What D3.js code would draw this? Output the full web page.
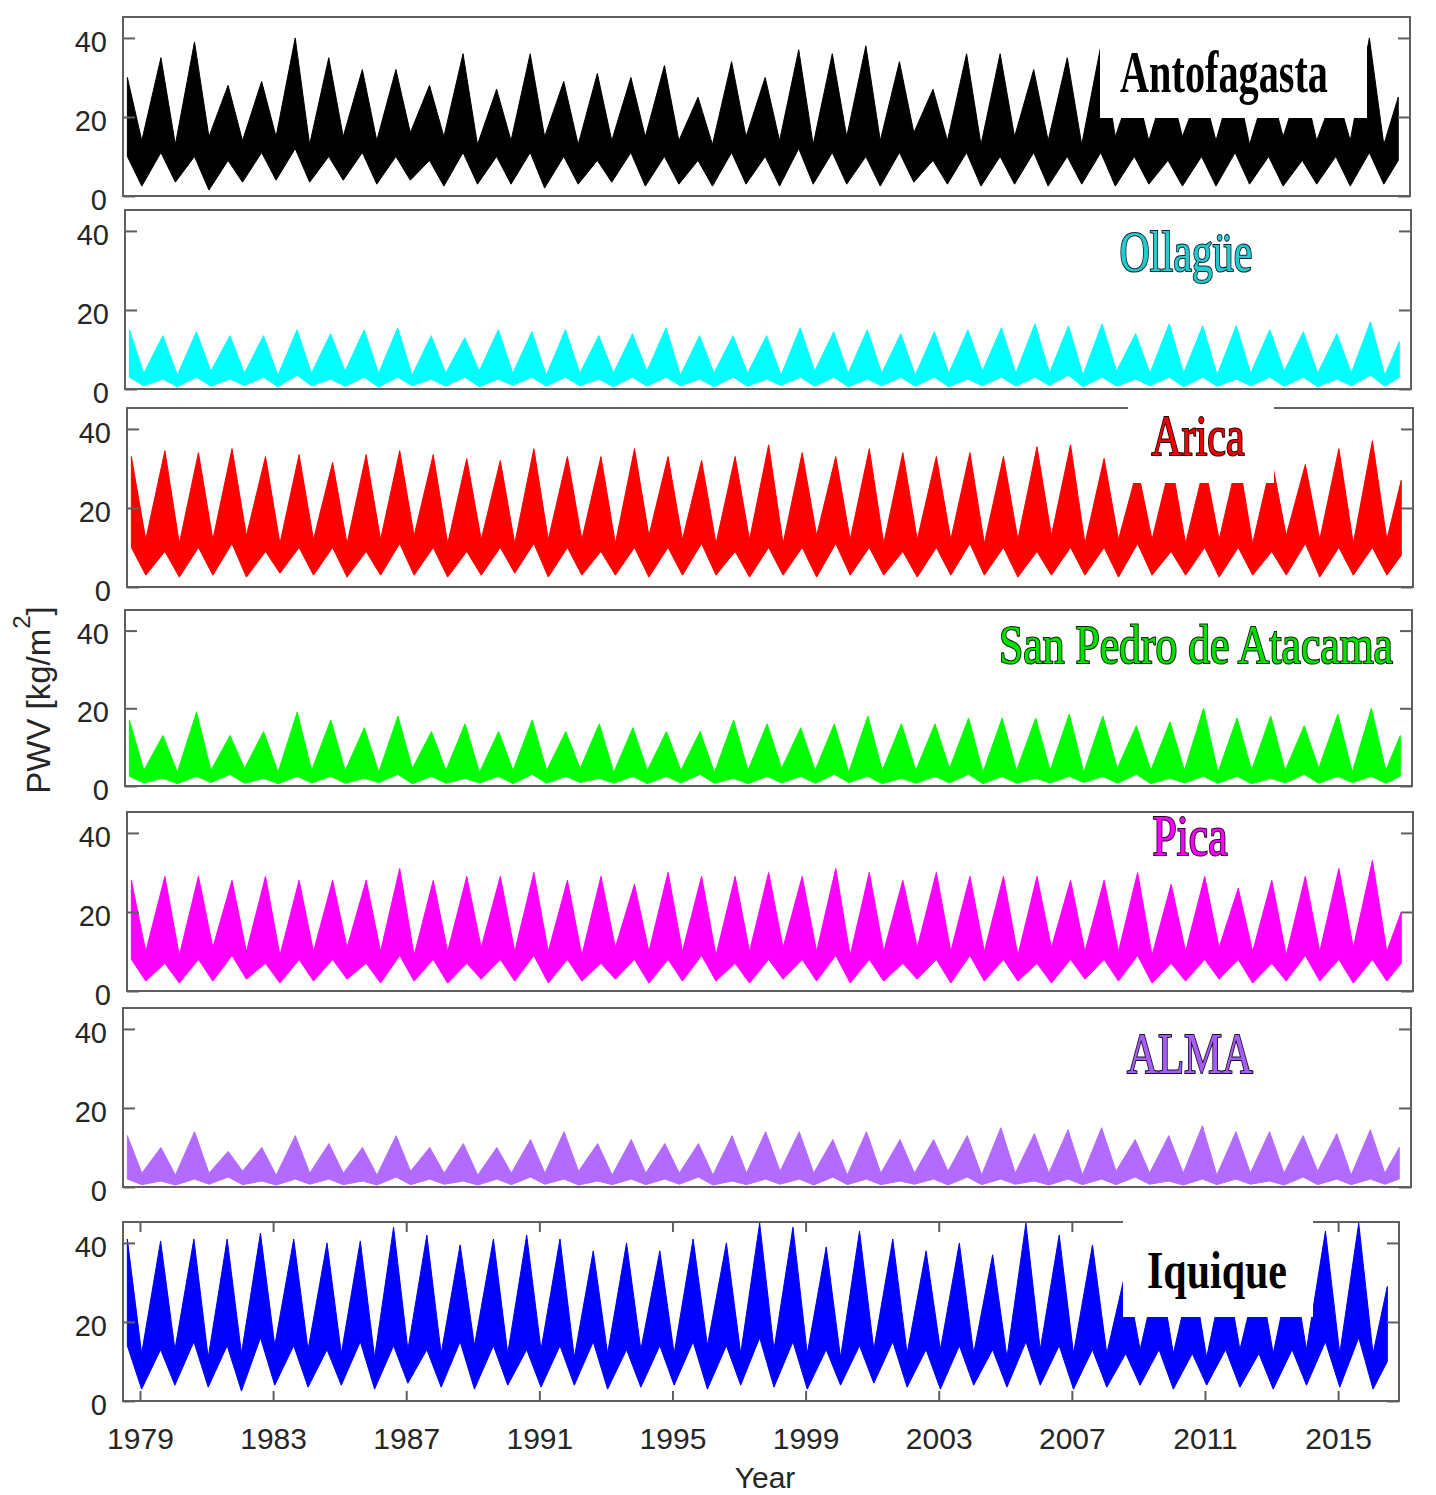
<!DOCTYPE html>
<html>
<head>
<meta charset="utf-8">
<script src="https://cdn.jsdelivr.net/npm/d3@7"></script>
<style>
  body { margin: 0; background: #fff; }
</style>
</head>
<body>
<script>
// one entry per season: summer peak (~Feb) followed by the winter trough (~Jul)
const seasons = [1979,1980,1981,1982,1983,1984,1985,1986,1987,1988,1989,1990,1991,1992,1993,1994,1995,1996,1997,1998,
  1999,2000,2001,2002,2003,2004,2005,2006,2007,2008,2009,2010,2011,2012,2013,2014,2015,2016];
const tickYears = [1979,1983,1987,1991,1995,1999,2003,2007,2011,2015];
const yTicks = [0, 20, 40];

// hi = summer spike top, sumLo = summer lower edge (last entry: where the record ends, early 2017)
// winHi / lo = winter upper and lower edge of the band. values in kg/m2
const antoHi    = [30,35,39,28,29,40,35,32,32,28,36,27,36,29,31,30,33,25,34,30,37,36,38,34,27,36,36,32,35,38,29,30,28,31,29,30,27,40,25];
const antoSumLo = [10,11,10,9,11,12,10,11,10,9,11,10,11,10,9,11,10,9,11,10,12,11,10,11,9,11,10,11,10,11,10,9,10,11,10,9,10,11,9];
const antoWinHi = [14,13,15,14,15,13,15,14,16,15,13,14,15,13,14,15,14,13,15,14,13,15,14,16,14,13,15,14,13,15,14,15,14,13,15,14,14,13];
const antoLo    = [2.5,3.5,1.5,3.5,4,3.5,4,3,4,2.5,3,3,2,3,3.5,2.5,3,2.5,3,2.5,3,3,2.5,3.5,3,2.5,3,2.5,3,2.5,3,2.5,2.5,3,2.5,3,2.5,3];

const ollaHi    = [15,13.5,14.5,13.5,13.5,15,14,15,15.5,13.5,13,15,14.5,15,13.5,14,15.5,13.5,13.5,13.5,15.5,14.5,15,14,14.5,15,15.5,16.5,16,16.5,14,16.5,16,16,15,14.5,14,17,12];
const ollaSumLo = [3,2.5,3,2.5,3,3.5,2.5,3,3,2.5,3,2.5,3,3,2.5,3,3,2.5,3,2.5,3,3,2.5,3,3,2.5,3,3,3.5,3,2.5,3,3,2.5,3,3,2.5,3.5,3];
const ollaWinHi = [4,3.5,4.5,4,3.5,4,4.5,4,3.5,4,4.5,4,3.5,4,4,4.5,3.5,4,4,3.5,4.5,4,4,3.5,4,4.5,4,4,3.5,4.5,4,4,3.5,4,4.5,4,4,3.5];
const ollaLo    = [0.8,0.6,0.7,0.9,0.6,0.8,0.7,0.5,0.8,0.7,0.6,0.9,0.7,0.8,0.6,0.7,0.8,0.6,0.7,0.9,0.7,0.6,0.8,0.7,0.6,0.8,0.7,0.9,0.6,0.7,0.8,0.6,0.7,0.8,0.7,0.6,0.8,0.7];

const aricaHi    = [33,34.5,34,35,33,33.5,31.5,33.5,34.5,33.5,32.5,32,35,33,33,35,33,32,33,36,34,33,35,34,33,34,33,35.5,36,32.5,30,32,31,33,32,31,35,37,27];
const aricaSumLo = [10,9,10,11,9,10,10,9,11,10,9,10,11,10,9,10,10,11,9,10,10,11,10,9,10,11,10,9,10,10,11,9,10,10,9,11,10,10,8];
const aricaWinHi = [12,11,12,13,11,12,11,12,13,11,12,11,12,12,11,13,12,11,12,11,13,12,11,12,12,11,12,13,11,12,12,11,12,11,13,12,11,12];
const aricaLo    = [3,2.5,3,2.5,3.5,3,2.5,3,3,2.5,3,3.5,2.5,3,3,2.5,3,3,2.5,3,2.5,3,3,2.5,3,3,2.5,3,3,2.5,3,3,2.5,3,3,2.5,3,3];

const spaHi    = [17,13,19,13,14,19,17,15,18,14,16,14,17,14,16,15,14,14,17,16,15,16,18,16,16,17.5,17.5,17.5,18.5,18,15.5,16.5,20,17.5,18,15.5,18.5,20,13];
const spaSumLo = [2.5,2,2.5,3,2,2.5,2.5,2,3,2.5,2,2.5,3,2.5,2,2.5,2.5,3,2,2.5,2.5,3,2.5,2,2.5,3,2.5,2,2.5,2.5,3,2,2.5,2.5,2,3,2.5,2.5,2.5];
const spaWinHi = [4,3.5,4,4.5,3.5,4,4,3.5,4.5,4,3.5,4,4,4.5,3.5,4,4,3.5,4,4.5,4,3.5,4,4,4.5,3.5,4,4,3.5,4.5,4,4,3.5,4,4,4.5,3.5,4];
const spaLo    = [0.8,0.6,0.9,0.7,0.6,0.8,0.7,0.9,0.6,0.7,0.8,0.6,0.7,0.9,0.7,0.6,0.8,0.7,0.6,0.8,0.7,0.9,0.6,0.7,0.8,0.6,0.7,0.8,0.9,0.7,0.6,0.8,0.7,0.6,0.8,0.7,0.9,0.7];

const picaHi    = [28,29,29,28,29,28,28,28,31,28,29,29,30,28,29,27,30,29,29,30,29,31,30,28,30,29,29,29,28,28,30,27,29,26,28,29,31,33,20];
const picaSumLo = [8,7,8,9,7,8,8,7,9,8,7,8,9,8,7,8,8,9,7,8,8,9,8,7,8,9,8,7,8,8,9,7,8,8,7,9,8,8,7];
const picaWinHi = [10,9,11,10,9,10,11,10,9,10,11,10,10,9,11,10,10,9,10,11,10,9,10,11,10,10,9,11,10,10,9,10,11,10,9,10,11,10];
const picaLo    = [2.5,2,2.5,3,2,2.5,3,2,2.5,2,3,2.5,2,2.5,3,2,2.5,2.5,2,3,2.5,2,2.5,3,2,2.5,2.5,2,3,2.5,2,2.5,3,2,2.5,2.5,2,2.5];

const almaHi    = [13,10,14,9,10,13,11,10,13,10,11,10,12,14,11,12,11,11,13,14,14,12,14,12,12,13,15,13.5,14.5,15,12,13,15.5,14,14,13,13.5,14.5,10];
const almaSumLo = [2,1.5,2,2.5,1.5,2,2,1.5,2.5,2,1.5,2,2.5,2,1.5,2,2,2.5,1.5,2,2,2.5,2,1.5,2,2.5,2,1.5,2,2,2.5,1.5,2,2,1.5,2.5,2,2,2];
const almaWinHi = [3.5,3,3.5,4,3,3.5,3.5,3,4,3.5,3,3.5,3.5,4,3,3.5,3.5,3,3.5,4,3.5,3,3.5,3.5,4,3,3.5,3.5,3,4,3.5,3.5,3,3.5,3.5,4,3,3.5];
const almaLo    = [0.6,0.5,0.7,0.6,0.5,0.7,0.6,0.5,0.6,0.7,0.5,0.6,0.7,0.5,0.6,0.6,0.7,0.5,0.6,0.7,0.5,0.6,0.6,0.7,0.5,0.6,0.7,0.5,0.6,0.6,0.7,0.5,0.6,0.7,0.5,0.6,0.6,0.7];

const iquiHi    = [41,40.5,41,41,42.5,41,40,40.5,44,42,39.5,41,42,41,38,40,38,41,40,45,44,39,43,41,38,40,37,45,42,39.5,33,34,33,34,33,35,43,45,29];
const iquiSumLo = [14,13,15,14,16,14,13,15,14,13,15,14,13,14,15,13,14,15,14,16,15,13,14,15,13,14,13,15,14,13,12,13,12,13,12,13,15,16,10];
const iquiWinHi = [12,13,11,12,14,13,12,11,13,12,14,12,13,11,12,13,12,14,12,13,12,11,13,12,13,12,11,13,12,12,13,12,11,13,12,13,12,12];
const iquiLo    = [3,4,3.5,2.5,4,3.5,4,3,4.5,3.5,3,4,3.5,4,3,3.5,4,3,4,3.5,3,4,4.5,3.5,3,4,3.5,4,3,3.5,4,3,4,3.5,3,4,3.5,3];

const stations = [
  { name: "Antofagasta", color: "#000000", hi: antoHi, sumLo: antoSumLo, winHi: antoWinHi, lo: antoLo },
  { name: "Ollagüe", color: "#00ffff", hi: ollaHi, sumLo: ollaSumLo, winHi: ollaWinHi, lo: ollaLo },
  { name: "Arica", color: "#ff0000", hi: aricaHi, sumLo: aricaSumLo, winHi: aricaWinHi, lo: aricaLo },
  { name: "San Pedro de Atacama", color: "#00ff00", hi: spaHi, sumLo: spaSumLo, winHi: spaWinHi, lo: spaLo },
  { name: "Pica", color: "#ff00ff", hi: picaHi, sumLo: picaSumLo, winHi: picaWinHi, lo: picaLo },
  { name: "ALMA", color: "#b36bff", hi: almaHi, sumLo: almaSumLo, winHi: almaWinHi, lo: almaLo },
  { name: "Iquique", color: "#0000ff", hi: iquiHi, sumLo: iquiSumLo, winHi: iquiWinHi, lo: iquiLo }
];

// timing inside a year (decimal year)
const peakAt = 0.12, troughAt = 0.55, recordEnd = 2016.98;
const timeDomain = [1978.99, 2017.33];

// layout (the panels of the figure are not perfectly aligned)
const panels = [
  { left: 123, right: 1410, top: 17,   bottom: 196 },
  { left: 125, right: 1411, top: 210,  bottom: 389 },
  { left: 127, right: 1413, top: 408,  bottom: 587 },
  { left: 125, right: 1412, top: 610,  bottom: 786 },
  { left: 127, right: 1413, top: 812,  bottom: 991 },
  { left: 123, right: 1411, top: 1008, bottom: 1187 },
  { left: 123, right: 1399, top: 1222, bottom: 1401 }
];
const yMax = 45.3;

// station names: centre, baseline, font size, printed width (the figure squeezes them)
const labels = [
  { cx: 1224, base: 92,   size: 59, len: 208, bold: true,  fill: "#000",    stroke: null,   box: [1100, 19, 1367, 118] },
  { cx: 1186, base: 271,  size: 57, len: 133, bold: false, fill: "#22cccc", stroke: "#123", box: null },
  { cx: 1198, base: 455,  size: 56, len: 93,  bold: false, fill: "#ee0000", stroke: "#200", box: [1128, 405, 1274, 483] },
  { cx: 1196, base: 663,  size: 54, len: 394, bold: false, fill: "#00e000", stroke: "#120", box: null },
  { cx: 1190, base: 855,  size: 56, len: 75,  bold: false, fill: "#ff00ff", stroke: "#202", box: null },
  { cx: 1190, base: 1073, size: 57, len: 126, bold: false, fill: "#a85cf5", stroke: "#112", box: null },
  { cx: 1217, base: 1288, size: 53, len: 140, bold: true,  fill: "#000",    stroke: null,   box: [1123, 1219, 1313, 1317] }
];

const frameColor = "#5f5f5f";
const tickFont = "'Liberation Sans', Arial, sans-serif";

const svg = d3.select("body").append("svg")
  .attr("width", 1436)
  .attr("height", 1495);

function styleAxis(g) {
  g.select(".domain").remove();
  g.selectAll(".tick line").attr("stroke", frameColor).attr("stroke-width", 2);
  g.selectAll(".tick text")
    .attr("fill", "#262626")
    .style("font-family", tickFont)
    .style("font-size", "29px");
}

stations.forEach((st, i) => {
  const p = panels[i];
  const x = d3.scaleLinear().domain(timeDomain).range([p.left, p.right]);
  const y = d3.scaleLinear().domain([0, yMax]).range([p.bottom, p.top]);

  // alternate summer / winter band edges
  const pts = [];
  seasons.forEach((yr, k) => {
    pts.push({ t: yr + peakAt, lo: st.sumLo[k], hi: st.hi[k] });
    pts.push({ t: yr + troughAt, lo: st.lo[k], hi: st.winHi[k] });
  });
  pts.push({ t: recordEnd, lo: st.sumLo[seasons.length], hi: st.hi[seasons.length] });

  const g = svg.append("g");

  svg.append("clipPath").attr("id", "clip" + i)
    .append("rect")
    .attr("x", p.left).attr("y", p.top)
    .attr("width", p.right - p.left).attr("height", p.bottom - p.top);

  const area = d3.area()
    .x(d => x(d.t))
    .y0(d => y(d.lo))
    .y1(d => y(d.hi));

  g.append("path")
    .datum(pts)
    .attr("clip-path", `url(#clip${i})`)
    .attr("d", area)
    .attr("fill", st.color)
    .attr("stroke", st.color)
    .attr("stroke-width", 1)
    .attr("stroke-linejoin", "round");

  // frame
  g.append("rect")
    .attr("x", p.left).attr("y", p.top)
    .attr("width", p.right - p.left).attr("height", p.bottom - p.top)
    .attr("fill", "none")
    .attr("stroke", frameColor)
    .attr("stroke-width", 2);

  // y ticks on both sides, pointing inward
  g.append("g")
    .attr("transform", `translate(${p.left},0)`)
    .call(d3.axisLeft(y).tickValues(yTicks).tickSize(-12).tickPadding(16))
    .call(styleAxis)
    .selectAll(".tick text").attr("dy", "0.45em");

  g.append("g")
    .attr("transform", `translate(${p.right},0)`)
    .call(d3.axisRight(y).tickValues(yTicks).tickSize(-12).tickFormat(""))
    .call(styleAxis);

  // time axis only on the bottom panel
  if (i === stations.length - 1) {
    const tickPos = tickYears.map(v => v + 0.5); // labels sit at mid-year
    g.append("g")
      .attr("transform", `translate(0,${p.bottom})`)
      .call(d3.axisBottom(x).tickValues(tickPos).tickFormat((d, j) => tickYears[j]).tickSize(-10).tickPadding(27))
      .call(styleAxis)
      .selectAll(".tick text").style("font-size", "30px");
    g.append("g")
      .attr("transform", `translate(0,${p.top})`)
      .call(d3.axisTop(x).tickValues(tickPos).tickSize(-10).tickFormat(""))
      .call(styleAxis);
  }

  // station name, some of them on a white patch
  const lb = labels[i];
  if (lb.box) {
    g.append("rect")
      .attr("x", lb.box[0]).attr("y", lb.box[1])
      .attr("width", lb.box[2] - lb.box[0]).attr("height", lb.box[3] - lb.box[1])
      .attr("fill", "#fff");
  }
  const t = g.append("text")
    .attr("text-anchor", "middle")
    .style("font-family", "'Liberation Serif', 'Times New Roman', serif")
    .style("font-size", lb.size + "px")
    .style("font-weight", lb.bold ? "bold" : "normal")
    .attr("fill", lb.fill)
    .text(st.name);
  const natural = t.node().getComputedTextLength();
  t.attr("transform", `translate(${lb.cx},${lb.base}) scale(${lb.len / natural},1)`);
  if (lb.stroke) {
    t.attr("stroke", lb.stroke).attr("stroke-width", 2.2).attr("paint-order", "stroke");
  }
});

// axis titles
svg.append("text")
  .attr("x", 765).attr("y", 1488)
  .attr("text-anchor", "middle")
  .attr("fill", "#262626")
  .style("font-family", tickFont)
  .style("font-size", "30px")
  .text("Year");

const yl = svg.append("text")
  .attr("transform", "translate(50,700) rotate(-90)")
  .attr("text-anchor", "middle")
  .attr("fill", "#262626")
  .style("font-family", tickFont)
  .style("font-size", "33px");
yl.append("tspan").text("PWV [kg/m");
yl.append("tspan").attr("dy", -20).style("font-size", "24px").text("2");
yl.append("tspan").attr("dy", 20).text("]");
</script>
</body>
</html>
